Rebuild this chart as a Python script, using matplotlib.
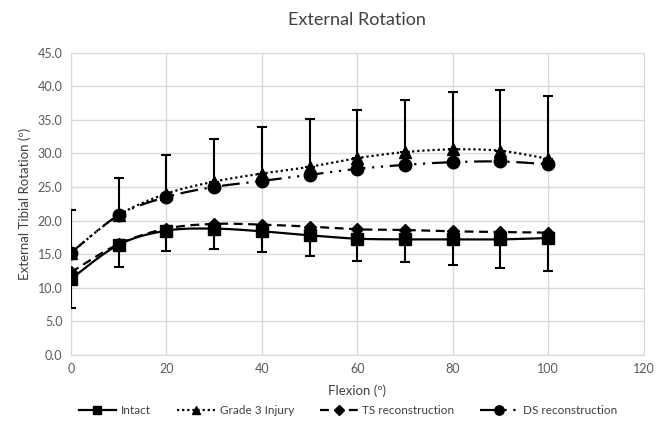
import numpy as np
import matplotlib.pyplot as plt

plt.rcParams['font.family'] = ['Lato', 'DejaVu Sans']

# Data
flexion = [0, 10, 20, 30, 40, 50, 60, 70, 80, 90, 100]
intact = [11.3, 16.4, 18.5, 18.8, 18.4, 17.8, 17.3, 17.2, 17.2, 17.2, 17.4]
intact_low = [7.0, 13.1, 15.4, 15.8, 15.3, 14.7, 14.0, 13.8, 13.4, 12.9, 12.5]
grade3 = [15.2, 20.8, 24.0, 25.8, 27.0, 28.0, 29.3, 30.2, 30.6, 30.4, 29.2]
grade3_high = [21.6, 26.3, 29.7, 32.1, 33.9, 35.2, 36.5, 37.9, 39.1, 39.4, 38.5]
ts_recon = [12.3, 16.5, 18.8, 19.5, 19.4, 19.1, 18.7, 18.6, 18.4, 18.3, 18.2]
ds_recon = [15.2, 20.8, 23.5, 25.0, 25.9, 26.8, 27.7, 28.3, 28.7, 28.8, 28.4]


def smooth(x, y, n=20):
    # Catmull-Rom curve through the points, like Excel's smoothed line
    x = np.asarray(x, float)
    y = np.asarray(y, float)
    px = np.concatenate([[x[0]], x, [x[-1]]])
    py = np.concatenate([[y[0]], y, [y[-1]]])
    xs, ys = [], []
    t = np.linspace(0, 1, n)
    for i in range(1, len(px) - 2):
        for p, out in ((px, xs), (py, ys)):
            p0, p1, p2, p3 = p[i - 1], p[i], p[i + 1], p[i + 2]
            out.extend(0.5 * (2 * p1 + (-p0 + p2) * t
                              + (2 * p0 - 5 * p1 + 4 * p2 - p3) * t ** 2
                              + (-p0 + 3 * p1 - 3 * p2 + p3) * t ** 3))
    return xs, ys


fig = plt.figure(figsize=(6.69, 4.25), dpi=100)
ax = fig.add_axes([0.106, 0.165, 0.856, 0.711])

lw = 1.6
# error bars
ax.errorbar(flexion, intact, yerr=[np.array(intact) - np.array(intact_low), np.zeros(len(flexion))],
            fmt='none', ecolor='black', elinewidth=1.5, capsize=3.5, capthick=1.5, zorder=3)
ax.errorbar(flexion, grade3, yerr=[np.zeros(len(flexion)), np.array(grade3_high) - np.array(grade3)],
            fmt='none', ecolor='black', elinewidth=1.5, capsize=3.5, capthick=1.5, zorder=3)

series = [
    (intact, 'Intact', '-', 's', 8.5),
    (grade3, 'Grade 3 Injury', (0, (1, 1.3)), '^', 8),
    (ts_recon, 'TS reconstruction', (0, (4, 2.5)), 'D', 6.5),
    (ds_recon, 'DS reconstruction', (0, (8, 3, 1, 3, 1, 3)), 'o', 9),
]
handles = []
for vals, name, ls, mk, ms in series:
    sx, sy = smooth(flexion, vals)
    ax.plot(sx, sy, color='black', linestyle=ls, linewidth=lw, zorder=4)
    ax.plot(flexion, vals, linestyle='none', marker=mk, markersize=ms,
            color='black', zorder=5)
    h, = ax.plot([], [], color='black', linestyle=ls, linewidth=lw,
                 marker=mk, markersize=ms * 0.75, label=name)
    handles.append(h)

ax.set_xlim(0, 120)
ax.set_ylim(0, 45)
ax.set_xticks(range(0, 121, 20))
ax.set_yticks(np.arange(0, 45.1, 5))
ax.set_yticklabels([f'{v:.1f}' for v in np.arange(0, 45.1, 5)])
ax.grid(True, color='#d9d9d9', linewidth=1)
ax.set_axisbelow(True)
for s in ax.spines.values():
    s.set_color('#d9d9d9')
ax.tick_params(length=0, labelsize=9, colors='#595959', pad=6)

ax.set_title('External Rotation', fontsize=13, color='#404040', pad=20)
ax.set_xlabel('Flexion (º)', fontsize=9.5, color='#404040', labelpad=7)
ax.set_ylabel('External Tibial Rotation (º)', fontsize=9.5, color='#404040', labelpad=5)

fig.legend(handles=handles, loc='lower center', bbox_to_anchor=(0.52, -0.005), ncol=4,
           frameon=False, fontsize=8.5, handlelength=3.2, columnspacing=2.2,
           handletextpad=0.4, labelcolor='#404040')

fig.savefig('out.png', dpi=100)
plt.close()
